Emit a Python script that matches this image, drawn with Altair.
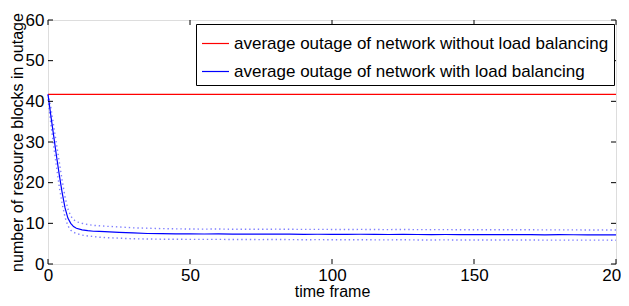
import altair as alt
import pandas as pd

# time frames
t = [0, 1, 2, 3, 4, 5, 6, 7, 8, 9, 10, 12, 14, 16, 18, 20, 25, 30, 35, 40, 45, 50,
     55, 60, 65, 70, 75, 80, 85, 90, 95, 100, 105, 110, 115, 120, 125, 130, 135,
     140, 145, 150, 155, 160, 165, 170, 175, 180, 185, 190, 195, 200]
# average outage with load balancing
with_lb = [41.7, 36.5, 31.5, 26.5, 21.8, 17.5, 13.8, 11.3, 10.0, 9.2, 8.8, 8.4, 8.2,
           8.05, 8.0, 7.95, 7.8, 7.65, 7.5, 7.45, 7.42, 7.40, 7.38, 7.40, 7.35, 7.36,
           7.33, 7.37, 7.34, 7.30, 7.32, 7.30, 7.28, 7.31, 7.27, 7.26, 7.29, 7.25,
           7.24, 7.26, 7.22, 7.23, 7.21, 7.24, 7.20, 7.22, 7.18, 7.20, 7.19, 7.17,
           7.18, 7.16]
# confidence bounds (dotted)
upper = [41.7, 38.5, 34.0, 29.5, 25.0, 20.5, 16.5, 13.5, 11.8, 10.9, 10.4, 10.0, 9.7,
         9.5, 9.4, 9.3, 9.1, 8.9, 8.8, 8.7, 8.65, 8.6, 8.58, 8.6, 8.55, 8.56, 8.53,
         8.57, 8.54, 8.5, 8.52, 8.5, 8.48, 8.51, 8.47, 8.46, 8.49, 8.45, 8.44, 8.46,
         8.42, 8.43, 8.41, 8.44, 8.4, 8.42, 8.38, 8.4, 8.39, 8.37, 8.38, 8.36]
lower = [40.5, 34.5, 29.0, 23.8, 18.8, 14.8, 11.5, 9.4, 8.3, 7.8, 7.5, 7.1, 6.9, 6.75,
         6.6, 6.5, 6.35, 6.2, 6.15, 6.1, 6.08, 6.06, 6.05, 6.06, 6.02, 6.03, 6.0, 6.03,
         6.0, 5.97, 5.99, 5.97, 5.95, 5.98, 5.94, 5.93, 5.96, 5.92, 5.91, 5.93, 5.9,
         5.91, 5.89, 5.92, 5.88, 5.9, 5.87, 5.88, 5.87, 5.86, 5.87, 5.85]
# average outage without load balancing
t_flat = [0, 200]
without_lb = [41.7, 41.7]

x_ticks = [0, 50, 100, 150, 200]
y_ticks = [0, 10, 20, 30, 40, 50, 60]

lab_without = "average outage of network without load balancing"
lab_with = "average outage of network with load balancing"

main = pd.concat([
    pd.DataFrame({"t": t_flat, "v": without_lb, "s": lab_without}),
    pd.DataFrame({"t": t, "v": with_lb, "s": lab_with}),
])
bounds = pd.concat([
    pd.DataFrame({"t": t, "v": upper, "b": "upper"}),
    pd.DataFrame({"t": t, "v": lower, "b": "lower"}),
])

W, H = 568, 244
FONT = "Liberation Sans"

xs = alt.Scale(domain=[0, 200], nice=False)
ys = alt.Scale(domain=[0, 60], nice=False)

xaxis = alt.Axis(values=x_ticks, ticks=False, domain=False, grid=False,
                 labelFontSize=17, labelFont=FONT, labelColor="black", labelPadding=3,
                 labelFlush=False, labelOverlap=False,
                 title="time frame", titleFontSize=16, titleFont=FONT,
                 titleFontWeight="normal", titleColor="black",
                 titleY=32, titleBaseline="alphabetic")
yaxis = alt.Axis(values=y_ticks, ticks=False, domain=False, grid=False,
                 labelFontSize=17, labelFont=FONT, labelColor="black", labelPadding=4,
                 labelFlush=False, labelOverlap=False,
                 title="number of resource blocks in outage", titleFontSize=16,
                 titleFont=FONT, titleFontWeight="normal", titleColor="black",
                 titleX=-26, titleBaseline="alphabetic")

band = alt.Chart(bounds).mark_line(color="#7f7fff", strokeWidth=1.4,
                                   strokeDash=[1.4, 2.9]).encode(
    x=alt.X("t:Q", scale=xs, axis=xaxis),
    y=alt.Y("v:Q", scale=ys, axis=yaxis),
    detail="b:N",
)

lines = alt.Chart(main).mark_line(strokeWidth=1.2).encode(
    x=alt.X("t:Q", scale=xs),
    y=alt.Y("v:Q", scale=ys),
    color=alt.Color("s:N",
                    scale=alt.Scale(domain=[lab_without, lab_with],
                                    range=["#ff0000", "#0000ff"]),
                    legend=alt.Legend(title=None, orient="none", legendX=148, legendY=4,
                                      symbolType="stroke", symbolSize=729,
                                      symbolStrokeWidth=1.2, labelFontSize=17,
                                      labelFont=FONT, labelColor="black",
                                      labelOffset=4, padding=5, rowPadding=5,
                                      strokeColor="black", fillColor="white",
                                      labelLimit=500)),
)

xt = pd.DataFrame({"t": x_ticks})
yt = pd.DataFrame({"v": y_ticks})
tick_style = dict(color="black", strokeWidth=1)
xb = alt.Chart(xt).mark_rule(**tick_style).encode(
    x=alt.X("t:Q", scale=xs), y=alt.value(H), y2=alt.value(H - 5))
xtop = alt.Chart(xt).mark_rule(**tick_style).encode(
    x=alt.X("t:Q", scale=xs), y=alt.value(0), y2=alt.value(5))
yl = alt.Chart(yt).mark_rule(**tick_style).encode(
    y=alt.Y("v:Q", scale=ys), x=alt.value(0), x2=alt.value(5))
yr = alt.Chart(yt).mark_rule(**tick_style).encode(
    y=alt.Y("v:Q", scale=ys), x=alt.value(W), x2=alt.value(W - 5))

chart = alt.layer(band, lines, xb, xtop, yl, yr).properties(
    width=W, height=H,
    autosize=alt.AutoSizeParams(type="none"),
    padding={"left": 40, "top": 12, "right": 5, "bottom": 34},
).configure_view(stroke="black", strokeWidth=1.2).configure(background="white")

chart.save("out.html", embed_options={"renderer": "svg", "actions": False})
